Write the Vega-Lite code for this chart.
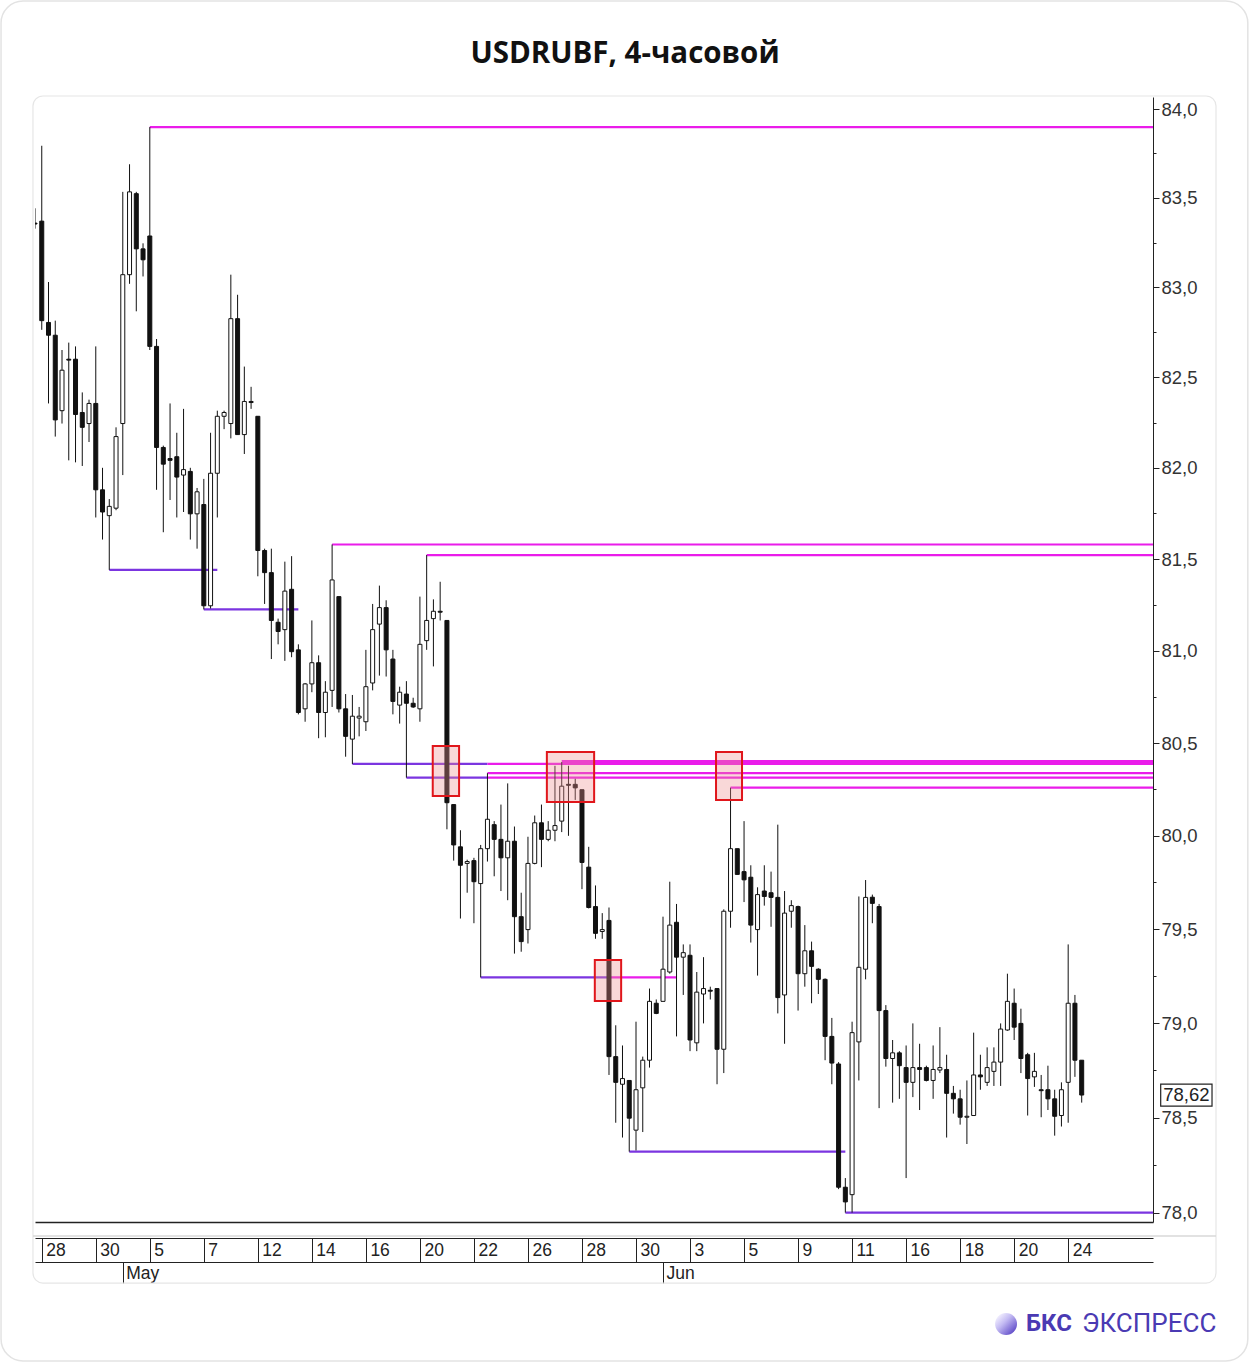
{
  "$schema": "https://vega.github.io/schema/vega-lite/v6.json",
  "width": 1118,
  "height": 1125,
  "autosize": {"type": "none"},
  "padding": {"left": 35, "top": 97, "right": 97, "bottom": 141},
  "background": "white",
  "title": {"text": "USDRUBF, 4-часовой", "font": "Open Sans", "fontSize": 29.5, "fontWeight": "bold", "color": "#111111", "anchor": "middle", "frame": "group", "dx": 31, "offset": -69},
  "config": {
    "view": {"stroke": null},
    "locale": {"number": {"decimal": ",", "thousands": " ", "grouping": [3], "currency": ["", " ₽"]}}
  },
  "datasets": {
    "candles": [
      {"i":0,"o":83.359,"h":83.442,"l":83.328,"c":83.354},
      {"i":1,"o":83.370,"h":83.793,"l":82.764,"c":82.815},
      {"i":2,"o":82.805,"h":83.030,"l":82.356,"c":82.734},
      {"i":3,"o":82.734,"h":82.815,"l":82.173,"c":82.265},
      {"i":4,"o":82.316,"h":82.652,"l":82.245,"c":82.540},
      {"i":5,"o":82.601,"h":82.693,"l":82.042,"c":82.596},
      {"i":6,"o":82.601,"h":82.672,"l":82.031,"c":82.295},
      {"i":7,"o":82.306,"h":82.417,"l":82.011,"c":82.224},
      {"i":8,"o":82.245,"h":82.377,"l":82.143,"c":82.356},
      {"i":9,"o":82.356,"h":82.672,"l":81.728,"c":81.880},
      {"i":10,"o":81.880,"h":82.001,"l":81.607,"c":81.758},
      {"i":11,"o":81.738,"h":81.829,"l":81.441,"c":81.789},
      {"i":12,"o":81.779,"h":82.224,"l":81.768,"c":82.173},
      {"i":13,"o":82.245,"h":83.534,"l":81.961,"c":83.071},
      {"i":14,"o":83.071,"h":83.689,"l":83.020,"c":83.534},
      {"i":15,"o":83.524,"h":83.534,"l":82.867,"c":83.215},
      {"i":16,"o":83.215,"h":83.246,"l":83.061,"c":83.154},
      {"i":17,"o":83.287,"h":83.898,"l":82.652,"c":82.672},
      {"i":18,"o":82.672,"h":82.713,"l":81.880,"c":82.113},
      {"i":19,"o":82.113,"h":82.123,"l":81.647,"c":82.021},
      {"i":20,"o":82.052,"h":82.356,"l":81.824,"c":82.042},
      {"i":21,"o":82.062,"h":82.194,"l":81.728,"c":81.950},
      {"i":22,"o":81.961,"h":82.326,"l":81.758,"c":81.991},
      {"i":23,"o":81.981,"h":82.001,"l":81.607,"c":81.748},
      {"i":24,"o":81.748,"h":81.890,"l":81.557,"c":81.869},
      {"i":25,"o":81.799,"h":81.940,"l":81.225,"c":81.245},
      {"i":26,"o":81.245,"h":82.194,"l":81.230,"c":81.971},
      {"i":27,"o":81.971,"h":82.316,"l":81.728,"c":82.285},
      {"i":28,"o":82.285,"h":82.316,"l":82.214,"c":82.306},
      {"i":29,"o":82.245,"h":83.071,"l":82.163,"c":82.826},
      {"i":30,"o":82.826,"h":82.959,"l":82.184,"c":82.184},
      {"i":31,"o":82.184,"h":82.560,"l":82.077,"c":82.367},
      {"i":32,"o":82.367,"h":82.448,"l":82.326,"c":82.361},
      {"i":33,"o":82.285,"h":82.285,"l":81.406,"c":81.547},
      {"i":34,"o":81.547,"h":81.557,"l":81.255,"c":81.426},
      {"i":35,"o":81.426,"h":81.557,"l":80.955,"c":81.165},
      {"i":36,"o":81.155,"h":81.175,"l":81.035,"c":81.105},
      {"i":37,"o":81.115,"h":81.486,"l":80.945,"c":81.325},
      {"i":38,"o":81.335,"h":81.516,"l":80.965,"c":80.995},
      {"i":39,"o":81.005,"h":81.035,"l":80.655,"c":80.665},
      {"i":40,"o":80.685,"h":80.825,"l":80.615,"c":80.820},
      {"i":41,"o":80.820,"h":81.165,"l":80.775,"c":80.935},
      {"i":42,"o":80.935,"h":80.975,"l":80.526,"c":80.665},
      {"i":43,"o":80.665,"h":80.835,"l":80.531,"c":80.775},
      {"i":44,"o":80.785,"h":81.580,"l":80.695,"c":81.386},
      {"i":45,"o":81.295,"h":81.295,"l":80.665,"c":80.685},
      {"i":46,"o":80.685,"h":80.765,"l":80.426,"c":80.536},
      {"i":47,"o":80.521,"h":80.760,"l":80.387,"c":80.645},
      {"i":48,"o":80.635,"h":80.695,"l":80.536,"c":80.645},
      {"i":49,"o":80.615,"h":81.005,"l":80.565,"c":80.805},
      {"i":50,"o":80.825,"h":81.255,"l":80.785,"c":81.115},
      {"i":51,"o":81.145,"h":81.355,"l":80.865,"c":81.235},
      {"i":52,"o":81.235,"h":81.275,"l":80.860,"c":81.005},
      {"i":53,"o":80.955,"h":81.005,"l":80.655,"c":80.725},
      {"i":54,"o":80.705,"h":80.805,"l":80.605,"c":80.775},
      {"i":55,"o":80.765,"h":80.835,"l":80.313,"c":80.715},
      {"i":56,"o":80.715,"h":80.745,"l":80.690,"c":80.695},
      {"i":57,"o":80.685,"h":81.295,"l":80.615,"c":81.035},
      {"i":58,"o":81.055,"h":81.522,"l":81.005,"c":81.165},
      {"i":59,"o":81.175,"h":81.280,"l":80.915,"c":81.215},
      {"i":60,"o":81.215,"h":81.376,"l":81.165,"c":81.210},
      {"i":61,"o":81.165,"h":81.165,"l":80.035,"c":80.178},
      {"i":62,"o":80.168,"h":80.168,"l":79.867,"c":79.951},
      {"i":63,"o":79.941,"h":80.030,"l":79.557,"c":79.842},
      {"i":64,"o":79.852,"h":79.872,"l":79.695,"c":79.862},
      {"i":65,"o":79.867,"h":79.882,"l":79.532,"c":79.754},
      {"i":66,"o":79.744,"h":79.951,"l":79.243,"c":79.931},
      {"i":67,"o":79.931,"h":80.337,"l":79.862,"c":80.089},
      {"i":68,"o":80.060,"h":80.079,"l":79.783,"c":79.981},
      {"i":69,"o":79.981,"h":80.168,"l":79.704,"c":79.882},
      {"i":70,"o":79.882,"h":80.282,"l":79.655,"c":79.971},
      {"i":71,"o":79.971,"h":80.050,"l":79.370,"c":79.567},
      {"i":72,"o":79.567,"h":79.695,"l":79.380,"c":79.434},
      {"i":73,"o":79.498,"h":79.995,"l":79.424,"c":79.852},
      {"i":74,"o":79.852,"h":80.109,"l":79.847,"c":80.070},
      {"i":75,"o":80.070,"h":80.168,"l":79.832,"c":79.981},
      {"i":76,"o":79.981,"h":80.079,"l":79.971,"c":80.030},
      {"i":77,"o":80.030,"h":80.377,"l":79.971,"c":80.055},
      {"i":78,"o":80.079,"h":80.397,"l":80.020,"c":80.267},
      {"i":79,"o":80.277,"h":80.377,"l":80.000,"c":80.272},
      {"i":80,"o":80.277,"h":80.307,"l":80.193,"c":80.258},
      {"i":81,"o":80.248,"h":80.248,"l":79.714,"c":79.857},
      {"i":82,"o":79.832,"h":79.941,"l":79.611,"c":79.616},
      {"i":83,"o":79.621,"h":79.734,"l":79.449,"c":79.478},
      {"i":84,"o":79.488,"h":79.586,"l":79.449,"c":79.498},
      {"i":85,"o":79.547,"h":79.616,"l":78.726,"c":78.823},
      {"i":86,"o":78.823,"h":78.989,"l":78.474,"c":78.687},
      {"i":87,"o":78.677,"h":78.882,"l":78.396,"c":78.707},
      {"i":88,"o":78.697,"h":78.697,"l":78.322,"c":78.498},
      {"i":89,"o":78.435,"h":79.008,"l":78.328,"c":78.648},
      {"i":90,"o":78.658,"h":78.823,"l":78.425,"c":78.804},
      {"i":91,"o":78.804,"h":79.184,"l":78.765,"c":79.116},
      {"i":92,"o":79.106,"h":79.126,"l":79.048,"c":79.052},
      {"i":93,"o":79.116,"h":79.567,"l":79.116,"c":79.287},
      {"i":94,"o":79.272,"h":79.754,"l":79.263,"c":79.522},
      {"i":95,"o":79.537,"h":79.635,"l":78.930,"c":79.351},
      {"i":96,"o":79.351,"h":79.419,"l":79.150,"c":79.375},
      {"i":97,"o":79.361,"h":79.419,"l":78.852,"c":78.911},
      {"i":98,"o":78.896,"h":79.272,"l":78.852,"c":79.165},
      {"i":99,"o":79.155,"h":79.351,"l":78.999,"c":79.184},
      {"i":100,"o":79.175,"h":79.194,"l":79.126,"c":79.170},
      {"i":101,"o":79.184,"h":79.184,"l":78.677,"c":78.862},
      {"i":102,"o":78.862,"h":79.606,"l":78.736,"c":79.596},
      {"i":103,"o":79.596,"h":80.259,"l":79.508,"c":79.931},
      {"i":104,"o":79.931,"h":79.931,"l":79.793,"c":79.793},
      {"i":105,"o":79.808,"h":80.079,"l":79.645,"c":79.764},
      {"i":106,"o":79.778,"h":79.842,"l":79.429,"c":79.522},
      {"i":107,"o":79.498,"h":79.724,"l":79.253,"c":79.685},
      {"i":108,"o":79.704,"h":79.842,"l":79.626,"c":79.675},
      {"i":109,"o":79.695,"h":79.808,"l":79.513,"c":79.670},
      {"i":110,"o":79.670,"h":80.060,"l":79.052,"c":79.136},
      {"i":111,"o":79.150,"h":79.704,"l":78.891,"c":79.586},
      {"i":112,"o":79.596,"h":79.655,"l":79.508,"c":79.626},
      {"i":113,"o":79.621,"h":79.626,"l":79.067,"c":79.263},
      {"i":114,"o":79.263,"h":79.522,"l":79.194,"c":79.385},
      {"i":115,"o":79.385,"h":79.434,"l":79.106,"c":79.302},
      {"i":116,"o":79.287,"h":79.292,"l":79.155,"c":79.233},
      {"i":117,"o":79.233,"h":79.238,"l":78.804,"c":78.930},
      {"i":118,"o":78.930,"h":79.028,"l":78.677,"c":78.789},
      {"i":119,"o":78.784,"h":78.794,"l":78.125,"c":78.135},
      {"i":120,"o":78.135,"h":78.183,"l":78.002,"c":78.058},
      {"i":121,"o":78.096,"h":79.008,"l":78.002,"c":78.950},
      {"i":122,"o":78.901,"h":79.675,"l":78.697,"c":79.297},
      {"i":123,"o":79.287,"h":79.763,"l":79.233,"c":79.670},
      {"i":124,"o":79.671,"h":79.685,"l":79.532,"c":79.638},
      {"i":125,"o":79.621,"h":79.635,"l":78.551,"c":79.067},
      {"i":126,"o":79.067,"h":79.096,"l":78.770,"c":78.813},
      {"i":127,"o":78.813,"h":78.911,"l":78.580,"c":78.843},
      {"i":128,"o":78.843,"h":78.852,"l":78.600,"c":78.775},
      {"i":129,"o":78.765,"h":78.882,"l":78.183,"c":78.687},
      {"i":130,"o":78.687,"h":78.999,"l":78.609,"c":78.765},
      {"i":131,"o":78.765,"h":78.891,"l":78.541,"c":78.755},
      {"i":132,"o":78.765,"h":78.775,"l":78.692,"c":78.697},
      {"i":133,"o":78.697,"h":78.882,"l":78.600,"c":78.755},
      {"i":134,"o":78.752,"h":78.979,"l":78.736,"c":78.765},
      {"i":135,"o":78.755,"h":78.833,"l":78.396,"c":78.629},
      {"i":136,"o":78.629,"h":78.668,"l":78.522,"c":78.600},
      {"i":137,"o":78.600,"h":78.648,"l":78.464,"c":78.503},
      {"i":138,"o":78.503,"h":78.697,"l":78.362,"c":78.508},
      {"i":139,"o":78.512,"h":78.950,"l":78.512,"c":78.726},
      {"i":140,"o":78.726,"h":78.833,"l":78.648,"c":78.716},
      {"i":141,"o":78.687,"h":78.872,"l":78.668,"c":78.765},
      {"i":142,"o":78.745,"h":78.872,"l":78.668,"c":78.794},
      {"i":143,"o":78.794,"h":78.999,"l":78.668,"c":78.969},
      {"i":144,"o":78.964,"h":79.263,"l":78.960,"c":79.116},
      {"i":145,"o":79.106,"h":79.184,"l":78.911,"c":78.979},
      {"i":146,"o":78.999,"h":79.077,"l":78.736,"c":78.813},
      {"i":147,"o":78.833,"h":78.843,"l":78.512,"c":78.707},
      {"i":148,"o":78.716,"h":78.843,"l":78.663,"c":78.745},
      {"i":149,"o":78.648,"h":78.726,"l":78.503,"c":78.643},
      {"i":150,"o":78.648,"h":78.775,"l":78.541,"c":78.600},
      {"i":151,"o":78.600,"h":78.648,"l":78.406,"c":78.508},
      {"i":152,"o":78.512,"h":78.687,"l":78.454,"c":78.648},
      {"i":153,"o":78.687,"h":79.419,"l":78.474,"c":79.106},
      {"i":154,"o":79.106,"h":79.150,"l":78.716,"c":78.804},
      {"i":155,"o":78.804,"h":78.804,"l":78.580,"c":78.62}
    ],
    "segments": [
      {"from": 11, "to": 27, "price": 81.441, "kind": "support"},
      {"from": 25, "to": 39, "price": 81.225, "kind": "support"},
      {"from": 47, "to": 67, "price": 80.387, "kind": "support"},
      {"from": 55, "to": 67, "price": 80.313, "kind": "support"},
      {"from": 66, "to": 85, "price": 79.243, "kind": "support"},
      {"from": 85, "to": 95, "price": 79.243, "kind": "resistance"},
      {"from": 88, "to": 120, "price": 78.322, "kind": "support"}
    ],
    "open_levels": [
      {"from": 17, "price": 83.898, "kind": "resistance"},
      {"from": 44, "price": 81.580, "kind": "resistance"},
      {"from": 58, "price": 81.522, "kind": "resistance"},
      {"from": 67, "price": 80.387, "kind": "resistance"},
      {"from": 67, "price": 80.313, "kind": "resistance"},
      {"from": 67, "price": 80.337, "kind": "resistance"},
      {"from": 78, "price": 80.397, "kind": "strong"},
      {"from": 103, "price": 80.259, "kind": "resistance"},
      {"from": 120, "price": 78.002, "kind": "support"}
    ],
    "boxes": [
      {"from": 58.9, "to": 62.8, "top": 80.484, "bottom": 80.214},
      {"from": 75.8, "to": 82.8, "top": 80.451, "bottom": 80.182},
      {"from": 100.85, "to": 104.7, "top": 80.451, "bottom": 80.193},
      {"from": 82.9, "to": 86.8, "top": 79.336, "bottom": 79.118}
    ]
  },
  "resolve": {"axis": {"x": "independent"}},
  "layer": [
    {
      "data": {"values": [{}]},
      "mark": {"type": "rect", "fill": "white", "fillOpacity": 0, "stroke": "#e3e3e3", "strokeWidth": 1.5, "cornerRadius": 22, "clip": false},
      "encoding": {
        "x": {"datum": -5.03, "type": "quantitative", "scale": {"domain": [0, 165.56], "nice": false, "zero": false, "padding": 0}, "axis": null},
        "x2": {"datum": 179.6},
        "y": {"datum": 84.611, "type": "quantitative", "scale": {"type": "log", "domain": [77.9528, 84.0677], "nice": false, "padding": 0}},
        "y2": {"datum": 77.229}
      }
    },
    {
      "data": {"values": [{}]},
      "mark": {"type": "rect", "fill": "white", "fillOpacity": 0, "stroke": "#e6e6e6", "strokeWidth": 1.2, "cornerRadius": 10, "clip": false},
      "encoding": {
        "x": {"datum": -0.3, "type": "quantitative", "scale": {"domain": [0, 165.56], "nice": false, "zero": false, "padding": 0}, "axis": null},
        "x2": {"datum": 174.89},
        "y": {"datum": 84.0733, "type": "quantitative", "scale": {"type": "log", "domain": [77.9528, 84.0677], "nice": false, "padding": 0}},
        "y2": {"datum": 77.634}
      }
    },
    {
      "data": {"values": [{}]},
      "mark": {"type": "rule", "stroke": "#d9d9d9", "strokeWidth": 1.5, "clip": false},
      "encoding": {
        "x": {"datum": -0.3, "type": "quantitative", "scale": {"domain": [0, 165.56], "nice": false, "zero": false, "padding": 0}, "axis": null},
        "x2": {"datum": 174.89},
        "y": {"datum": 77.880, "type": "quantitative", "scale": {"type": "log", "domain": [77.9528, 84.0677], "nice": false, "padding": 0}}
      }
    },
    {
      "data": {"name": "segments"},
      "mark": {"type": "rule", "strokeWidth": 2.2},
      "encoding": {
        "x": {"field": "from", "type": "quantitative", "scale": {"domain": [0, 165.56], "nice": false, "zero": false, "padding": 0}, "axis": null},
        "x2": {"field": "to"},
        "y": {"field": "price", "type": "quantitative", "scale": {"type": "log", "domain": [77.9528, 84.0677], "nice": false, "padding": 0}},
        "color": {"field": "kind", "type": "nominal", "scale": {"domain": ["support", "resistance", "strong"], "range": ["#7b35e0", "#ea1cea", "#ea1cea"]}, "legend": null}
      }
    },
    {
      "data": {"name": "open_levels"},
      "mark": {"type": "rule"},
      "encoding": {
        "x": {"field": "from", "type": "quantitative", "scale": {"domain": [0, 165.56], "nice": false, "zero": false, "padding": 0}, "axis": null},
        "x2": {"value": "width"},
        "y": {"field": "price", "type": "quantitative", "scale": {"type": "log", "domain": [77.9528, 84.0677], "nice": false, "padding": 0}},
        "color": {"field": "kind", "type": "nominal", "scale": {"domain": ["support", "resistance", "strong"], "range": ["#7b35e0", "#ea1cea", "#ea1cea"]}, "legend": null},
        "strokeWidth": {"condition": {"test": "datum.kind === 'strong'", "value": 4}, "value": 2.2}
      }
    },
    {
      "data": {"name": "candles"},
      "mark": {"type": "rule", "stroke": "#111111", "strokeWidth": 1, "clip": true},
      "encoding": {
        "x": {"field": "i", "type": "quantitative", "scale": {"domain": [0, 165.56], "nice": false, "zero": false, "padding": 0},
          "axis": {"orient": "bottom", "offset": 0, "domain": true, "domainColor": "#222222", "domainWidth": 1.5, "ticks": false, "labels": false, "grid": false, "title": null}},
        "y": {"field": "l", "type": "quantitative", "scale": {"type": "log", "domain": [77.9528, 84.0677], "nice": false, "padding": 0},
          "axis": {"orient": "right", "values": [78, 78.25, 78.5, 78.75, 79, 79.25, 79.5, 79.75, 80, 80.25, 80.5, 80.75, 81, 81.25, 81.5, 81.75, 82, 82.25, 82.5, 82.75, 83, 83.25, 83.5, 83.75, 84],
            "format": ".1f", "labelExpr": "(datum.value * 2) % 1 == 0 ? datum.label : ''",
            "domain": true, "ticks": true, "labels": true,
            "tickSize": {"condition": {"test": "(datum.value * 2) % 1 == 0", "value": 6}, "value": 3},
            "tickColor": "#222222", "domainColor": "#222222", "labelColor": "#333333", "labelFont": "Liberation Sans", "labelFontSize": 18.5, "labelPadding": 2, "labelBaseline": "middle", "grid": false, "title": null, "labelOverlap": false, "labelFlush": false}},
        "y2": {"field": "h"}
      }
    },
    {
      "data": {"name": "candles"},
      "mark": {"type": "bar", "size": 4, "stroke": "#111111", "strokeWidth": 1, "clip": true},
      "encoding": {
        "x": {"field": "i", "type": "quantitative", "scale": {"domain": [0, 165.56], "nice": false, "zero": false, "padding": 0},
          "axis": {"orient": "bottom", "offset": 16, "values": [1, 9, 17, 25, 33, 41, 49, 57, 65, 73, 81, 89, 97, 105, 113, 121, 129, 137, 145, 153],
            "labelExpr": "['28','30','5','7','12','14','16','20','22','26','28','30','3','5','9','11','16','18','20','24'][round((datum.value - 1) / 8)]",
            "domain": true, "domainColor": "#222222", "domainWidth": 1.2, "ticks": true, "tickSize": 24, "tickColor": "#222222", "tickWidth": 1,
            "labelAlign": "left", "labelBaseline": "middle", "labelPadding": -12, "labelOffset": 4, "labelFont": "Liberation Sans", "labelFontSize": 17.5, "labelColor": "#222222",
            "grid": false, "title": null, "labelOverlap": false, "labelFlush": false, "labelBound": false}},
        "y": {"field": "o", "type": "quantitative", "scale": {"type": "log", "domain": [77.9528, 84.0677], "nice": false, "padding": 0}},
        "y2": {"field": "c"},
        "fill": {"condition": {"test": "datum.c < datum.o", "value": "#111111"}, "value": "white"}
      }
    },
    {
      "data": {"name": "boxes"},
      "mark": {"type": "rect", "fill": "#ee8f8f", "fillOpacity": 0.35, "stroke": "#e0161b", "strokeWidth": 2},
      "encoding": {
        "x": {"field": "from", "type": "quantitative", "scale": {"domain": [0, 165.56], "nice": false, "zero": false, "padding": 0},
          "axis": {"orient": "bottom", "offset": 40, "values": [13, 93], "labelExpr": "datum.value < 50 ? 'May' : 'Jun'",
            "domain": true, "domainColor": "#222222", "domainWidth": 1.2, "ticks": true, "tickSize": 21, "tickColor": "#222222", "tickWidth": 1,
            "labelAlign": "left", "labelBaseline": "middle", "labelPadding": -10, "labelOffset": 3, "labelFont": "Liberation Sans", "labelFontSize": 17.5, "labelColor": "#222222",
            "grid": false, "title": null, "labelOverlap": false, "labelFlush": false, "labelBound": false}},
        "x2": {"field": "to"},
        "y": {"field": "top", "type": "quantitative", "scale": {"type": "log", "domain": [77.9528, 84.0677], "nice": false, "padding": 0}},
        "y2": {"field": "bottom"}
      }
    },
    {
      "data": {"values": [{}]},
      "mark": {"type": "rect", "fill": "white", "stroke": "#222222", "strokeWidth": 1.2, "clip": false},
      "encoding": {
        "x": {"datum": 166.7, "type": "quantitative", "scale": {"domain": [0, 165.56], "nice": false, "zero": false, "padding": 0}, "axis": null},
        "x2": {"datum": 174.3},
        "y": {"datum": 78.678, "type": "quantitative", "scale": {"type": "log", "domain": [77.9528, 84.0677], "nice": false, "padding": 0}},
        "y2": {"datum": 78.562}
      }
    },
    {
      "data": {"name": "candles"},
      "transform": [{"filter": "datum.i === 155"}],
      "mark": {"type": "text", "align": "center", "baseline": "middle", "font": "Liberation Sans", "fontSize": 18.5, "color": "#222222", "clip": false},
      "encoding": {
        "x": {"datum": 170.5, "type": "quantitative", "scale": {"domain": [0, 165.56], "nice": false, "zero": false, "padding": 0}, "axis": null},
        "y": {"field": "c", "type": "quantitative", "scale": {"type": "log", "domain": [77.9528, 84.0677], "nice": false, "padding": 0}},
        "text": {"field": "c", "type": "quantitative", "format": ".2f"}
      }
    },
    {
      "data": {"values": [{}]},
      "mark": {"type": "point", "shape": "circle", "filled": true, "size": 480, "strokeWidth": 0, "opacity": 1, "clip": false,
        "fill": {"gradient": "linear", "x1": 0.1, "y1": 0.1, "x2": 0.9, "y2": 0.9, "stops": [{"offset": 0, "color": "#f6f4ff"}, {"offset": 0.4, "color": "#c4bbf3"}, {"offset": 1, "color": "#5a45c6"}]}},
      "encoding": {
        "x": {"datum": 143.8, "type": "quantitative", "scale": {"domain": [0, 165.56], "nice": false, "zero": false, "padding": 0}, "axis": null},
        "y": {"datum": 77.421, "type": "quantitative", "scale": {"type": "log", "domain": [77.9528, 84.0677], "nice": false, "padding": 0}}
      }
    },
    {
      "data": {"values": [{}]},
      "mark": {"type": "text", "text": "БКС", "align": "left", "baseline": "middle", "font": "Roboto", "fontSize": 24, "fontWeight": "bold", "color": "#4a3ab3", "clip": false},
      "encoding": {
        "x": {"datum": 146.75, "type": "quantitative", "scale": {"domain": [0, 165.56], "nice": false, "zero": false, "padding": 0}, "axis": null},
        "y": {"datum": 77.421, "type": "quantitative", "scale": {"type": "log", "domain": [77.9528, 84.0677], "nice": false, "padding": 0}}
      }
    },
    {
      "data": {"values": [{}]},
      "mark": {"type": "text", "text": "ЭКСПРЕСС", "align": "left", "baseline": "middle", "font": "Roboto", "fontSize": 26, "fontWeight": "normal", "color": "#4a3ab3", "clip": false},
      "encoding": {
        "x": {"datum": 155.04, "type": "quantitative", "scale": {"domain": [0, 165.56], "nice": false, "zero": false, "padding": 0}, "axis": null},
        "y": {"datum": 77.421, "type": "quantitative", "scale": {"type": "log", "domain": [77.9528, 84.0677], "nice": false, "padding": 0}}
      }
    }
  ]
}
